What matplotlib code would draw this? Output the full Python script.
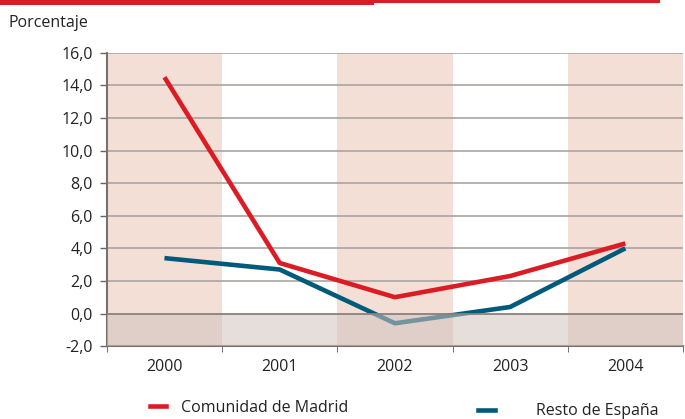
import matplotlib
matplotlib.use("Agg")
import matplotlib.pyplot as plt
from matplotlib.lines import Line2D
import numpy as np

years = ["2000", "2001", "2002", "2003", "2004"]
madrid = [14.5, 3.1, 1.0, 2.3, 4.3]
resto = [3.4, 2.7, -0.6, 0.4, 4.0]
yticks = [-2.0, 0.0, 2.0, 4.0, 6.0, 8.0, 10.0, 12.0, 14.0, 16.0]

plt.rcParams['font.family'] = ['Open Sans', 'DejaVu Sans']

fig = plt.figure(figsize=(6.85, 4.19), dpi=100)
ax = fig.add_axes([0.156, 0.174, 0.841, 0.700])

x = np.arange(len(years))
ax.set_xlim(-0.5, len(years) - 0.5)
ax.set_ylim(-2.0, 16.0)

for i in x:
    if i % 2 == 0:
        ax.axvspan(i - 0.5, i + 0.5, color='#f3dfd5', zorder=0, lw=0)

for t in yticks:
    if t == 0.0:
        continue
    ax.axhline(t, color='#a8a4a2', lw=1.2, zorder=1)

red = '#dc1c24'
blue = '#005a7b'
ax.plot(x, madrid, color=red, lw=3.3, zorder=3, solid_capstyle='butt')
ax.plot(x, resto, color=blue, lw=3.3, zorder=3, solid_capstyle='butt')

ax.axhspan(-2.0, 0.0, color='#d2c3be', alpha=0.55, zorder=4, lw=0)
ax.axhline(0.0, color='#8c7f7a', lw=1.3, zorder=5)

fs = 11.5
ax.set_yticks(yticks)
ax.set_yticklabels([f"{v:.1f}".replace('.', ',') for v in yticks], fontsize=fs, color='#222222')
ax.set_xticks(x)
ax.set_xticklabels(years, fontsize=fs, color='#222222')
ax.set_xticks(np.arange(-0.5, len(years)), minor=True)
ax.tick_params(axis='x', which='major', length=0, pad=9)
ax.tick_params(axis='x', which='minor', length=4, color='#555555', direction='out')
ax.tick_params(axis='y', length=5, color='#666666', direction='out', pad=5, width=1)

for s in ['top', 'right']:
    ax.spines[s].set_visible(False)
ax.spines['left'].set_color('#7a706c')
ax.spines['left'].set_linewidth(1.5)
ax.spines['bottom'].set_color('#7a706c')
ax.spines['bottom'].set_linewidth(1.5)

fig.text(0.012, 0.945, "Porcentaje", fontsize=fs, color='#222222', va='center')

# top red rule
fig.add_artist(Line2D([0, 0.54], [0.997, 0.997], color='#dc1c24', lw=5, transform=fig.transFigure))
fig.add_artist(Line2D([0.54, 0.96], [0.997, 0.997], color='#dc1c24', lw=3, transform=fig.transFigure))

# legend
fig.add_artist(Line2D([150/685, 166/685], [1 - 406/419, 1 - 406/419], color=red, lw=3.3, transform=fig.transFigure))
fig.text(181/685, 1 - 408/419, "Comunidad de Madrid", fontsize=fs, color='#222222', va='center')
fig.add_artist(Line2D([478/685, 495/685], [1 - 410/419, 1 - 410/419], color=blue, lw=3.3, transform=fig.transFigure))
fig.text(536/685, 1 - 411/419, "Resto de España", fontsize=fs, color='#222222', va='center')

fig.savefig("out.png", dpi=100)
